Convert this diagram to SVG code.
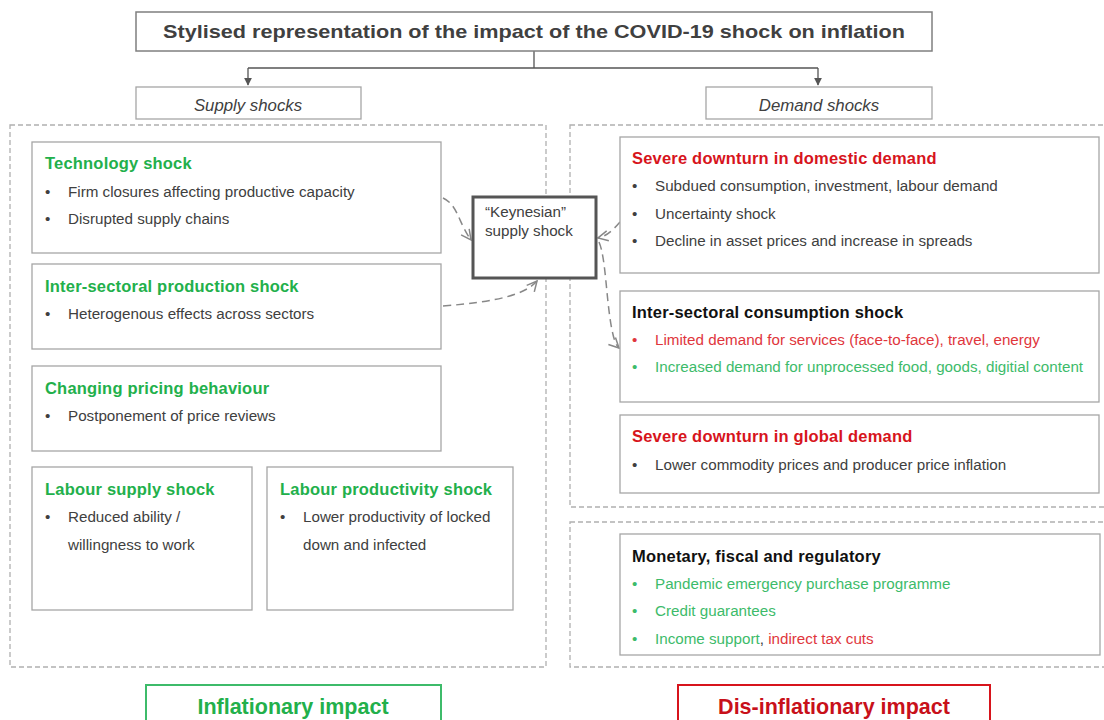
<svg xmlns="http://www.w3.org/2000/svg" width="1104" height="720" viewBox="0 0 1104 720">
<defs>
<style>
.box{fill:#fff;stroke:#a6a6a6;stroke-width:1.3}
.cont{fill:none;stroke:#b0b0b0;stroke-width:1.3;stroke-dasharray:5 3}
.t{font-family:"Liberation Sans",Arial,sans-serif;font-size:15.2px;fill:#404040}
.h{font-family:"Liberation Sans",Arial,sans-serif;font-size:16.5px;font-weight:bold;letter-spacing:0.2px}
.g{fill:#22b04b}
.gl{fill:#3dbb6a}
.r{fill:#d7141c}
.rl{fill:#e0363c}
.k{fill:#111}
.conn{fill:none;stroke:#555;stroke-width:1.3}
.dconn{fill:none;stroke:#888;stroke-width:1.5;stroke-dasharray:8 5}
.imp{font-family:"Liberation Sans",Arial,sans-serif;font-size:21.5px;font-weight:bold}
</style>
<marker id="arr" viewBox="0 0 10 10" refX="9" refY="5" markerWidth="8" markerHeight="8" orient="auto" markerUnits="userSpaceOnUse">
<path d="M0,0 L10,5 L0,10 z" fill="#555"/>
</marker>
<marker id="open" viewBox="0 0 12 12" refX="11" refY="6" markerWidth="12" markerHeight="12" orient="auto" markerUnits="userSpaceOnUse">
<path d="M1,1 L11,6 L1,11" fill="none" stroke="#888" stroke-width="1.5"/>
</marker>
</defs>
<rect width="1104" height="720" fill="#fff"/>

<g id="containers">
<rect class="cont" x="10" y="125" width="536" height="542"/>
<rect class="cont" x="570" y="125" width="540" height="382"/>
<rect class="cont" x="570" y="522" width="540" height="145"/>
</g>

<g id="connectors">
<path class="conn" d="M534,51 V68 M248,68 H818"/>
<path class="conn" d="M248,68 V85" marker-end="url(#arr)"/>
<path class="conn" d="M818,68 V85" marker-end="url(#arr)"/>
<path class="dconn" d="M443,198 C458,205 458,222 471,240" marker-end="url(#open)"/>
<path class="dconn" d="M443,306 C495,302 525,295 537,281" marker-end="url(#open)"/>
<path class="dconn" d="M620,222 C613,230 607,236 598,238" marker-end="url(#open)"/>
<path class="dconn" d="M599,242 C606,258 606,300 612,330 C614,340 616,345 619,348" marker-end="url(#open)"/>
</g>

<g id="title">
<rect x="136" y="12" width="796" height="39" fill="#fff" stroke="#7f7f7f" stroke-width="1.5"/>
<text x="534" y="38" text-anchor="middle" font-family="Liberation Sans,Arial,sans-serif" font-size="19" font-weight="bold" fill="#404040" textLength="742" lengthAdjust="spacingAndGlyphs">Stylised representation of the impact of the COVID-19 shock on inflation</text>
</g>

<g id="supply-shocks">
<rect class="box" x="136" y="87" width="225" height="32"/>
<text class="t" x="248" y="111" text-anchor="middle" font-style="italic" style="font-size:16.8px">Supply shocks</text>
</g>
<g id="demand-shocks">
<rect class="box" x="706" y="87" width="226" height="32"/>
<text class="t" x="819" y="111" text-anchor="middle" font-style="italic" style="font-size:16.8px">Demand shocks</text>
</g>

<g id="technology-shock">
<rect class="box" x="32" y="142" width="409" height="111"/>
<text class="h g" x="45" y="169">Technology shock</text>
<text class="t" x="45" y="197">•</text><text class="t" x="68" y="197">Firm closures affecting productive capacity</text>
<text class="t" x="45" y="224">•</text><text class="t" x="68" y="224">Disrupted supply chains</text>
</g>

<g id="inter-sectoral-production">
<rect class="box" x="32" y="264" width="409" height="85"/>
<text class="h g" x="45" y="292">Inter-sectoral production shock</text>
<text class="t" x="45" y="319">•</text><text class="t" x="68" y="319">Heterogenous effects across sectors</text>
</g>

<g id="pricing-behaviour">
<rect class="box" x="32" y="366" width="409" height="85"/>
<text class="h g" x="45" y="394">Changing pricing behaviour</text>
<text class="t" x="45" y="421">•</text><text class="t" x="68" y="421">Postponement of price reviews</text>
</g>

<g id="labour-supply">
<rect class="box" x="32" y="467" width="220" height="143"/>
<text class="h g" x="45" y="495">Labour supply shock</text>
<text class="t" x="45" y="522">•</text><text class="t" x="68" y="522">Reduced ability /</text>
<text class="t" x="68" y="550">willingness to work</text>
</g>

<g id="labour-productivity">
<rect class="box" x="267" y="467" width="246" height="143"/>
<text class="h g" x="280" y="495">Labour productivity shock</text>
<text class="t" x="280" y="522">•</text><text class="t" x="303" y="522">Lower productivity of locked</text>
<text class="t" x="303" y="550">down and infected</text>
</g>

<g id="keynesian">
<rect x="473" y="197" width="123" height="81" fill="#fff" stroke="#555" stroke-width="3"/>
<text class="t" x="485" y="217">“Keynesian”</text>
<text class="t" x="485" y="236">supply shock</text>
</g>

<g id="domestic-demand">
<rect class="box" x="620" y="137" width="479" height="136"/>
<text class="h r" x="632" y="164">Severe downturn in domestic demand</text>
<text class="t" x="632" y="191">•</text><text class="t" x="655" y="191">Subdued consumption, investment, labour demand</text>
<text class="t" x="632" y="219">•</text><text class="t" x="655" y="219">Uncertainty shock</text>
<text class="t" x="632" y="246">•</text><text class="t" x="655" y="246">Decline in asset prices and increase in spreads</text>
</g>

<g id="inter-sectoral-consumption">
<rect class="box" x="620" y="291" width="479" height="111"/>
<text class="h k" x="632" y="318">Inter-sectoral consumption shock</text>
<text class="t rl" x="632" y="345">•</text><text class="t rl" x="655" y="345">Limited demand for services (face-to-face), travel, energy</text>
<text class="t gl" x="632" y="372">•</text><text class="t gl" x="655" y="372">Increased demand for unprocessed food, goods, digitial content</text>
</g>

<g id="global-demand">
<rect class="box" x="620" y="415" width="479" height="78"/>
<text class="h r" x="632" y="442">Severe downturn in global demand</text>
<text class="t" x="632" y="470">•</text><text class="t" x="655" y="470">Lower commodity prices and producer price inflation</text>
</g>

<g id="policy">
<rect class="box" x="620" y="534" width="480" height="121"/>
<text class="h k" x="632" y="562">Monetary, fiscal and regulatory</text>
<text class="t gl" x="632" y="589">•</text><text class="t gl" x="655" y="589">Pandemic emergency purchase programme</text>
<text class="t gl" x="632" y="616">•</text><text class="t gl" x="655" y="616">Credit guarantees</text>
<text class="t gl" x="632" y="644">•</text><text class="t" x="655" y="644"><tspan class="gl">Income support</tspan>,<tspan class="rl"> indirect tax cuts</tspan></text>
</g>

<g id="inflationary-impact">
<rect x="146" y="685" width="295" height="45" fill="#fff" stroke="#3dbb6a" stroke-width="2"/>
<text class="imp" x="293" y="714" text-anchor="middle" fill="#22b04b">Inflationary impact</text>
</g>
<g id="disinflationary-impact">
<rect x="678" y="685" width="312" height="45" fill="#fff" stroke="#d7141c" stroke-width="2"/>
<text class="imp" x="834" y="714" text-anchor="middle" fill="#c8101a">Dis-inflationary impact</text>
</g>
</svg>
